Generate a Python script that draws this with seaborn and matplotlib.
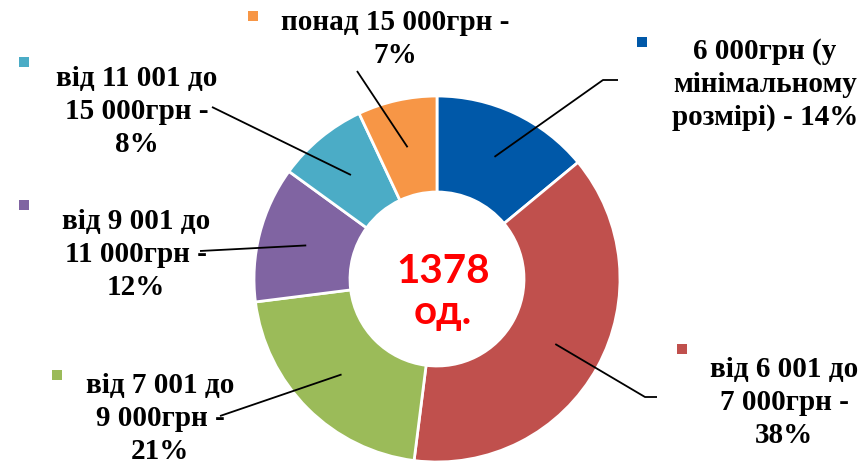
import numpy as np
import seaborn as sns
import matplotlib
matplotlib.use("Agg")
import matplotlib.pyplot as plt

# ---------------------------- data ----------------------------
labels = [
    "6 000грн (у\nмінімальному\nрозмірі) - 14%",
    "від 6 001 до\n7 000грн -\n38%",
    "від 7 001 до\n9 000грн -\n21%",
    "від 9 001 до\n11 000грн -\n12%",
    "від 11 001 до\n15 000грн -\n8%",
    "понад 15 000грн -\n7%",
]
shares = [14, 38, 21, 12, 8, 7]
colors = ["#0058A8", "#C0504D", "#9BBB59", "#8064A2", "#4BACC6", "#F79646"]
total_label = ["1378", "од."]

# ---------------------------- layout (pixel coords, y from top) ----------------------------
W, H = 865, 464
cx, cy = 437, 280          # pie centre
r_out, r_in = 183, 87
line_step = 33

# text centre x / first baseline y, marker position, elbow points of leader line
text_pos = [(765, 59), (784, 377), (160, 393), (136, 229), (137, 86), (395, 30)]
marker_pos = [(642, 43), (682, 350), (57, 376), (24, 206), (24, 63), (253, 17)]
leader_end = [[(603, 81), (618, 81)], [(645, 398), (657, 398)], [(220, 417)],
              [(200, 252)], [(212, 108)], [(357, 72)]]


def P(x, y):
    return x, H - y


sns.set_style("white")
plt.rcParams['font.family'] = ['Liberation Serif', 'DejaVu Serif']

fig = plt.figure(figsize=(W / 100, H / 100), dpi=100)
ax = fig.add_axes([0, 0, 1, 1])

wedges, _ = ax.pie(shares, colors=colors, startangle=90, counterclock=False,
                   radius=r_out, center=P(cx, cy),
                   wedgeprops=dict(width=r_out - r_in, edgecolor="white", linewidth=2))

ax.set_xlim(0, W)
ax.set_ylim(0, H)
ax.set_aspect("auto")
ax.axis("off")

r_mid = (r_out + r_in) / 2
for w, lab, col, tp, mp, le in zip(wedges, labels, colors, text_pos, marker_pos, leader_end):
    ang = np.deg2rad((w.theta1 + w.theta2) / 2)
    x0 = cx + r_mid * np.cos(ang)
    y0 = H - cy + r_mid * np.sin(ang)
    xs = [x0] + [p[0] for p in le]
    ys = [y0] + [H - p[1] for p in le]
    ax.plot(xs, ys, color="black", lw=1.3, solid_capstyle="butt")
    ax.scatter(*P(*mp), marker="s", s=50, color=col, linewidths=0)
    for i, line in enumerate(lab.split("\n")):
        ax.text(*P(tp[0], tp[1] + i * line_step), line, ha="center", va="baseline",
                fontsize=21, fontweight="bold", color="black")

for i, line in enumerate(total_label):
    ax.text(*P(443, 283 + i * 41), line, ha="center", va="baseline", fontsize=29,
            fontweight="bold", color="#FF0000", family=["Lato", "DejaVu Sans"])

fig.savefig("out.png", dpi=100)
